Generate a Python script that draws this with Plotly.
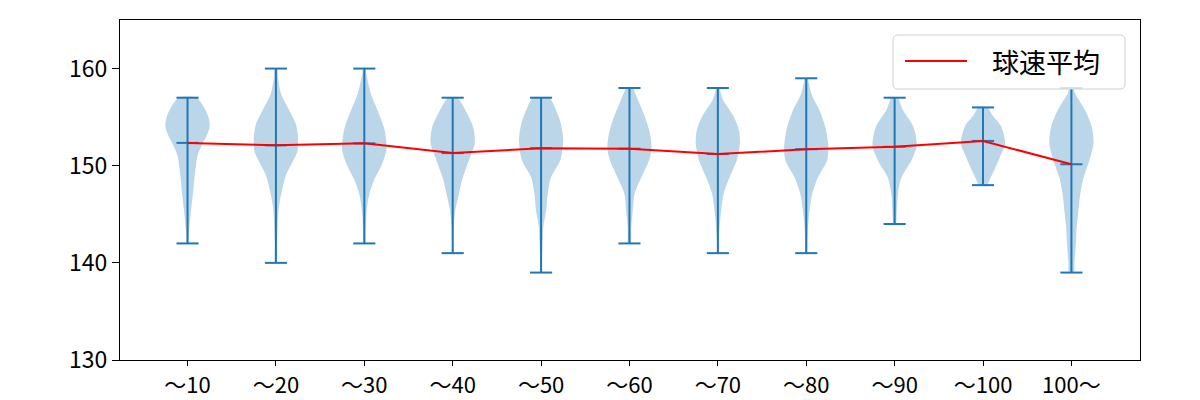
import plotly.graph_objects as go

categories = ["〜10", "〜20", "〜30", "〜40", "〜50", "〜60", "〜70", "〜80", "〜90", "〜100", "100〜"]
positions = [1, 2, 3, 4, 5, 6, 7, 8, 9, 10, 11]
means = [152.35, 152.1, 152.3, 151.3, 151.8, 151.75, 151.2, 151.7, 151.95, 152.55, 150.15]
mins = [142, 140, 142, 141, 139, 142, 141, 141, 144, 148, 139]
maxs = [157, 160, 160, 157, 157, 158, 158, 159, 157, 156, 158]

# violin outline: speed levels and relative half-widths
prof_vals = [
    [142, 143, 145, 147, 148.5, 150, 151, 152, 153, 154, 155, 156, 157],
    [140, 142, 144, 145.5, 147, 149, 150.5, 151.5, 153, 154.3, 155.7, 157.4, 159, 160],
    [142, 143, 145.4, 147.1, 148.6, 150, 151.6, 153, 154, 155.7, 157.4, 159.6, 160],
    [141, 142, 143.7, 145.4, 147.1, 148.8, 150.6, 152.3, 154, 155.7, 156.8, 157],
    [139, 140.5, 142, 143.7, 145.4, 147.1, 148.8, 150.6, 152.6, 154.3, 155.7, 156.8, 157],
    [142, 143.7, 145.4, 147.1, 148.8, 150.6, 151.8, 153.4, 155.1, 156.8, 157.8, 158],
    [141, 141.6, 143.7, 145.4, 147.1, 148.8, 150.6, 152.3, 153.7, 155.1, 156.8, 157.8, 158],
    [141, 142, 143.7, 145.4, 147.1, 148.8, 150.6, 152, 154, 155.7, 157.4, 158.7, 159],
    [144, 145.4, 147.1, 148.8, 150.6, 152.1, 154, 155.7, 156.8, 157],
    [148, 148.3, 149.5, 150.9, 152.3, 154.1, 155.2, 156],
    [139, 140.2, 142, 143.7, 145.4, 147.1, 148.8, 150.6, 152.3, 154, 155.7, 157.4, 158],
]
prof_widths = [
    [0.03, 0.06, 0.14, 0.24, 0.3, 0.38, 0.45, 0.62, 0.85, 1.0, 0.95, 0.75, 0.4],
    [0.03, 0.05, 0.08, 0.12, 0.23, 0.45, 0.78, 0.97, 1.0, 0.9, 0.6, 0.23, 0.1, 0.05],
    [0.04, 0.05, 0.11, 0.23, 0.46, 0.77, 1.0, 0.97, 0.88, 0.6, 0.3, 0.08, 0.05],
    [0.02, 0.03, 0.05, 0.12, 0.28, 0.46, 0.74, 1.0, 0.92, 0.58, 0.3, 0.2],
    [0.02, 0.04, 0.07, 0.1, 0.23, 0.3, 0.45, 0.87, 1.0, 0.9, 0.68, 0.45, 0.35],
    [0.05, 0.08, 0.15, 0.23, 0.54, 0.89, 1.0, 0.92, 0.69, 0.38, 0.2, 0.15],
    [0.02, 0.03, 0.08, 0.15, 0.26, 0.53, 0.86, 1.0, 0.95, 0.71, 0.23, 0.1, 0.08],
    [0.03, 0.05, 0.08, 0.15, 0.27, 0.53, 0.95, 1.0, 0.86, 0.6, 0.23, 0.1, 0.06],
    [0.05, 0.1, 0.15, 0.31, 0.77, 1.0, 0.85, 0.38, 0.2, 0.15],
    [0.2, 0.25, 0.5, 0.77, 1.0, 0.81, 0.43, 0.2],
    [0.1, 0.14, 0.2, 0.24, 0.32, 0.4, 0.55, 0.82, 1.0, 0.92, 0.62, 0.17, 0.08],
]

BLUE = "#1f77b4"
HALF = 0.25   # max half-width of a violin (x units)
CAP = 0.125   # half-length of caps
FONT = "Noto Sans CJK JP"

fig = go.Figure()

for p, vals, ws in zip(positions, prof_vals, prof_widths):
    xs = [p + w * HALF for w in ws] + [p - w * HALF for w in reversed(ws)]
    ys = list(vals) + list(reversed(vals))
    xs.append(xs[0]); ys.append(ys[0])
    fig.add_trace(go.Scatter(
        x=xs, y=ys, mode="lines", fill="toself",
        fillcolor="rgba(31,119,180,0.3)",
        line=dict(color="rgba(31,119,180,0.0)", width=0, shape="spline", smoothing=0.8),
        hoverinfo="skip", showlegend=False))

# vertical bars
vx, vy = [], []
for p, lo, hi in zip(positions, mins, maxs):
    vx += [p, p, None]
    vy += [lo, hi, None]
fig.add_trace(go.Scatter(x=vx, y=vy, mode="lines", line=dict(color=BLUE, width=2),
                         hoverinfo="skip", showlegend=False))
# caps
cx, cy = [], []
for p, lo, hi, m in zip(positions, mins, maxs, means):
    for v in (lo, hi, m):
        cx += [p - CAP, p + CAP, None]
        cy += [v, v, None]
fig.add_trace(go.Scatter(x=cx, y=cy, mode="lines", line=dict(color=BLUE, width=2),
                         hoverinfo="skip", showlegend=False))

# mean line
fig.add_trace(go.Scatter(x=positions, y=means, mode="lines", line=dict(color="red", width=2),
                         name="球速平均", showlegend=False))

# legend (drawn manually to mimic matplotlib)
def px2x(px):
    return (px - 120) / 1020
def py2y(py):
    return (360 - py) / 340

x0, x1, y0, y1 = px2x(893), px2x(1125), py2y(89), py2y(35)
rx, ry = 5 / 1020, 5 / 340
path = (f"M {x0+rx},{y0} L {x1-rx},{y0} Q {x1},{y0} {x1},{y0+ry} "
        f"L {x1},{y1-ry} Q {x1},{y1} {x1-rx},{y1} L {x0+rx},{y1} Q {x0},{y1} {x0},{y1-ry} "
        f"L {x0},{y0+ry} Q {x0},{y0} {x0+rx},{y0} Z")
fig.add_shape(type="path", path=path, xref="paper", yref="paper",
              fillcolor="rgba(255,255,255,0.8)", line=dict(color="#d0d0d0", width=1), layer="above")
fig.add_shape(type="line", xref="paper", yref="paper",
              x0=px2x(905), x1=px2x(967), y0=py2y(61), y1=py2y(61),
              line=dict(color="red", width=2), layer="above")
fig.add_annotation(text="球速平均", xref="paper", yref="paper", x=px2x(990), y=py2y(61),
                   xanchor="left", yanchor="middle", showarrow=False,
                   font=dict(family=FONT, size=27, color="black"))

fig.update_layout(
    width=1200, height=400,
    margin=dict(l=120, r=60, t=20, b=40),
    plot_bgcolor="white", paper_bgcolor="white",
    font=dict(family=FONT, size=22, color="black"),
    showlegend=False,
)
fig.update_xaxes(range=[0.236, 11.776], tickmode="array", tickvals=positions, ticktext=categories,
                 automargin=False,
                 showgrid=False, zeroline=False, showline=True, linecolor="black", linewidth=1.2,
                 mirror=True, ticks="outside", ticklen=5, tickcolor="black", tickwidth=1.2,
                 tickfont=dict(family=FONT, size=22, color="black"))
fig.update_yaxes(range=[130, 165], tickmode="array", tickvals=[130, 140, 150, 160],
                 automargin=False,
                 showgrid=False, zeroline=False, showline=True, linecolor="black", linewidth=1.2,
                 mirror=True, ticks="outside", ticklen=7, tickcolor="black", tickwidth=1.2,
                 tickfont=dict(family=FONT, size=23, color="black"))

fig.write_html("out.html")
